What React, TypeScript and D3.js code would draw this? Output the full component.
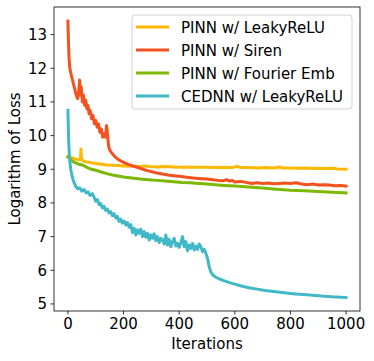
import React from "react";
import * as d3 from "d3";

// [iteration, log loss]
const leakyPinn: [number, number][] = [
  [0, 9.37], [10, 9.35], [20, 9.32], [30, 9.3], [40, 9.28], [45, 9.3], [47, 9.6], [49, 9.3],
  [55, 9.25], [65, 9.22], [80, 9.2], [100, 9.17], [120, 9.15], [140, 9.13], [160, 9.12],
  [180, 9.11], [200, 9.1], [230, 9.09], [260, 9.08], [280, 9.1], [290, 9.08], [320, 9.07],
  [350, 9.08], [380, 9.07], [410, 9.06], [440, 9.07], [470, 9.06], [500, 9.06], [530, 9.05],
  [560, 9.06], [590, 9.05], [610, 9.09], [620, 9.05], [650, 9.05], [680, 9.04], [710, 9.05],
  [740, 9.04], [760, 9.07], [770, 9.04], [800, 9.04], [830, 9.03], [860, 9.04], [880, 9.02],
  [900, 9.03], [930, 9.02], [950, 9.03], [970, 9.01], [1000, 9.0],
];

const sirenPinn: [number, number][] = [
  [0, 13.4], [2, 12.8], [4, 12.3], [7, 12.0], [12, 11.8], [18, 11.6], [24, 11.4], [30, 11.2],
  [35, 11.1], [39, 11.3], [42, 11.65], [45, 11.2], [48, 11.45], [52, 11.0], [56, 11.2],
  [60, 10.9], [64, 11.05], [68, 10.8], [72, 10.9], [76, 10.65], [80, 10.75], [85, 10.5],
  [90, 10.6], [95, 10.35], [100, 10.45], [105, 10.25], [110, 10.35], [115, 10.1], [120, 10.2],
  [125, 9.95], [130, 10.05], [135, 9.95], [139, 10.3], [143, 10.0], [146, 9.7], [150, 9.58],
  [158, 9.48], [166, 9.4], [175, 9.33], [185, 9.27], [195, 9.23], [210, 9.17], [225, 9.12],
  [240, 9.08], [255, 9.04], [270, 9.0], [285, 8.96], [300, 8.93], [320, 8.89], [340, 8.86],
  [360, 8.83], [380, 8.81], [400, 8.79], [420, 8.77], [440, 8.75], [460, 8.73], [480, 8.72],
  [500, 8.71], [520, 8.69], [540, 8.67], [560, 8.66], [570, 8.69], [580, 8.65], [590, 8.67],
  [600, 8.62], [620, 8.64], [640, 8.61], [660, 8.58], [680, 8.6], [700, 8.58], [720, 8.59],
  [740, 8.57], [760, 8.58], [780, 8.59], [800, 8.58], [820, 8.6], [840, 8.56], [860, 8.54],
  [880, 8.56], [900, 8.53], [920, 8.54], [940, 8.53], [960, 8.51], [980, 8.52], [1000, 8.5],
];

const fourierPinn: [number, number][] = [
  [0, 9.37], [10, 9.28], [20, 9.22], [30, 9.18], [40, 9.15], [55, 9.12], [70, 9.05], [85, 9.0],
  [100, 8.97], [120, 8.92], [140, 8.87], [160, 8.83], [180, 8.8], [200, 8.77], [230, 8.74],
  [260, 8.71], [290, 8.69], [320, 8.67], [350, 8.65], [380, 8.63], [410, 8.61], [440, 8.6],
  [470, 8.58], [500, 8.56], [530, 8.54], [560, 8.52], [600, 8.5], [650, 8.47], [700, 8.44],
  [750, 8.41], [800, 8.38], [850, 8.36], [900, 8.34], [950, 8.32], [1000, 8.3],
];

const cednn: [number, number][] = [
  [0, 10.75], [3, 9.8], [6, 9.3], [10, 9.0], [15, 8.8], [20, 8.65], [28, 8.5], [35, 8.42],
  [42, 8.45], [50, 8.35], [58, 8.4], [65, 8.3], [72, 8.33], [80, 8.22], [88, 8.28], [95, 8.15],
  [100, 8.05], [106, 8.1], [112, 7.95], [118, 7.98], [124, 7.85], [130, 7.9], [136, 7.78],
  [142, 7.82], [148, 7.7], [154, 7.74], [160, 7.62], [166, 7.68], [172, 7.55], [178, 7.6],
  [184, 7.45], [190, 7.52], [196, 7.4], [202, 7.46], [208, 7.35], [214, 7.42], [220, 7.28],
  [226, 7.36], [232, 7.12], [238, 7.25], [244, 7.05], [250, 7.2], [256, 7.1], [262, 7.22],
  [268, 7.0], [274, 7.15], [280, 6.98], [286, 7.1], [292, 6.9], [298, 7.05], [304, 6.95],
  [310, 7.08], [316, 6.88], [322, 7.0], [328, 6.82], [334, 6.95], [340, 6.9], [346, 6.78],
  [352, 7.05], [358, 6.75], [364, 6.92], [370, 6.7], [376, 6.85], [382, 6.95], [388, 6.72],
  [394, 6.8], [400, 6.68], [406, 6.82], [412, 7.0], [418, 6.7], [424, 6.85], [430, 6.58],
  [436, 6.75], [442, 6.65], [448, 6.8], [454, 6.6], [460, 6.72], [466, 6.62], [472, 6.78],
  [478, 6.7], [484, 6.55], [490, 6.62], [496, 6.5], [502, 6.35], [508, 6.1], [514, 5.95],
  [520, 5.87], [530, 5.8], [545, 5.74], [565, 5.68], [590, 5.61], [620, 5.54], [650, 5.48],
  [680, 5.44], [710, 5.4], [740, 5.37], [770, 5.34], [800, 5.31], [830, 5.29], [860, 5.27],
  [890, 5.25], [920, 5.23], [950, 5.21], [980, 5.2], [1000, 5.19],
];

const seriesNames = ["PINN w/ LeakyReLU", "PINN w/ Siren", "PINN w/ Fourier Emb", "CEDNN w/ LeakyReLU"];
const seriesColors = ["#ffb800", "#f4511e", "#7cb800", "#41b8c8"];
const xTicks = [0, 200, 400, 600, 800, 1000];
const yTicks = [5, 6, 7, 8, 9, 10, 11, 12, 13];

const W = 374, H = 361;
const margin = { top: 7, right: 14, bottom: 50, left: 54 };
const font = "DejaVu Sans, sans-serif";

export default function App() {
  const allSeries = [leakyPinn, sirenPinn, fourierPinn, cednn];

  const x = d3.scaleLinear().domain([-50, 1050]).range([margin.left, W - margin.right]);
  const y = d3.scaleLinear().domain([4.79, 13.82]).range([H - margin.bottom, margin.top]);

  const line = d3.line<[number, number]>()
    .x(d => x(d[0]))
    .y(d => y(d[1]));

  const bottom = H - margin.bottom;

  return (
    <svg width={W} height={H} style={{ position: "absolute", left: 0, top: 0, background: "#fff" }}
      fontFamily={font}>
      <defs>
        <clipPath id="plot">
          <rect x={margin.left} y={margin.top} width={W - margin.left - margin.right} height={bottom - margin.top} />
        </clipPath>
      </defs>

      <g clipPath="url(#plot)">
        {allSeries.map((s, i) => (
          <path key={i} d={line(s) || ""} fill="none" stroke={seriesColors[i]}
            strokeWidth={3} strokeLinejoin="round" strokeLinecap="square" />
        ))}
      </g>

      {/* frame */}
      <rect x={margin.left} y={margin.top} width={W - margin.left - margin.right}
        height={bottom - margin.top} fill="none" stroke="#000" strokeWidth={0.8} />

      {/* x axis */}
      {xTicks.map(t => (
        <g key={t} transform={`translate(${x(t)},${bottom})`}>
          <line y2={3.5} stroke="#000" strokeWidth={0.8} />
          <text y={18} textAnchor="middle" fontSize={15}>{t}</text>
        </g>
      ))}
      <text x={x(500)} y={349} textAnchor="middle" fontSize={15}>Iterations</text>

      {/* y axis */}
      {yTicks.map(t => (
        <g key={t} transform={`translate(${margin.left},${y(t)})`}>
          <line x2={-3.5} stroke="#000" strokeWidth={0.8} />
          <text x={-7} y={5.5} textAnchor="end" fontSize={15}>{t}</text>
        </g>
      ))}
      <text transform={`translate(20,${(margin.top + bottom) / 2}) rotate(-90)`} textAnchor="middle"
        fontSize={15}>Logarithm of Loss</text>

      {/* legend */}
      <rect x={132} y={15} width={220} height={94} rx={3} fill="#fff" fillOpacity={0.8}
        stroke="#d0d0d0" strokeWidth={1} />
      {seriesNames.map((n, i) => (
        <g key={n} transform={`translate(136,${27 + i * 23})`}>
          <line x1={0} x2={33} stroke={seriesColors[i]} strokeWidth={3} />
          <text x={45} y={5.5} fontSize={15}>{n}</text>
        </g>
      ))}
    </svg>
  );
}
